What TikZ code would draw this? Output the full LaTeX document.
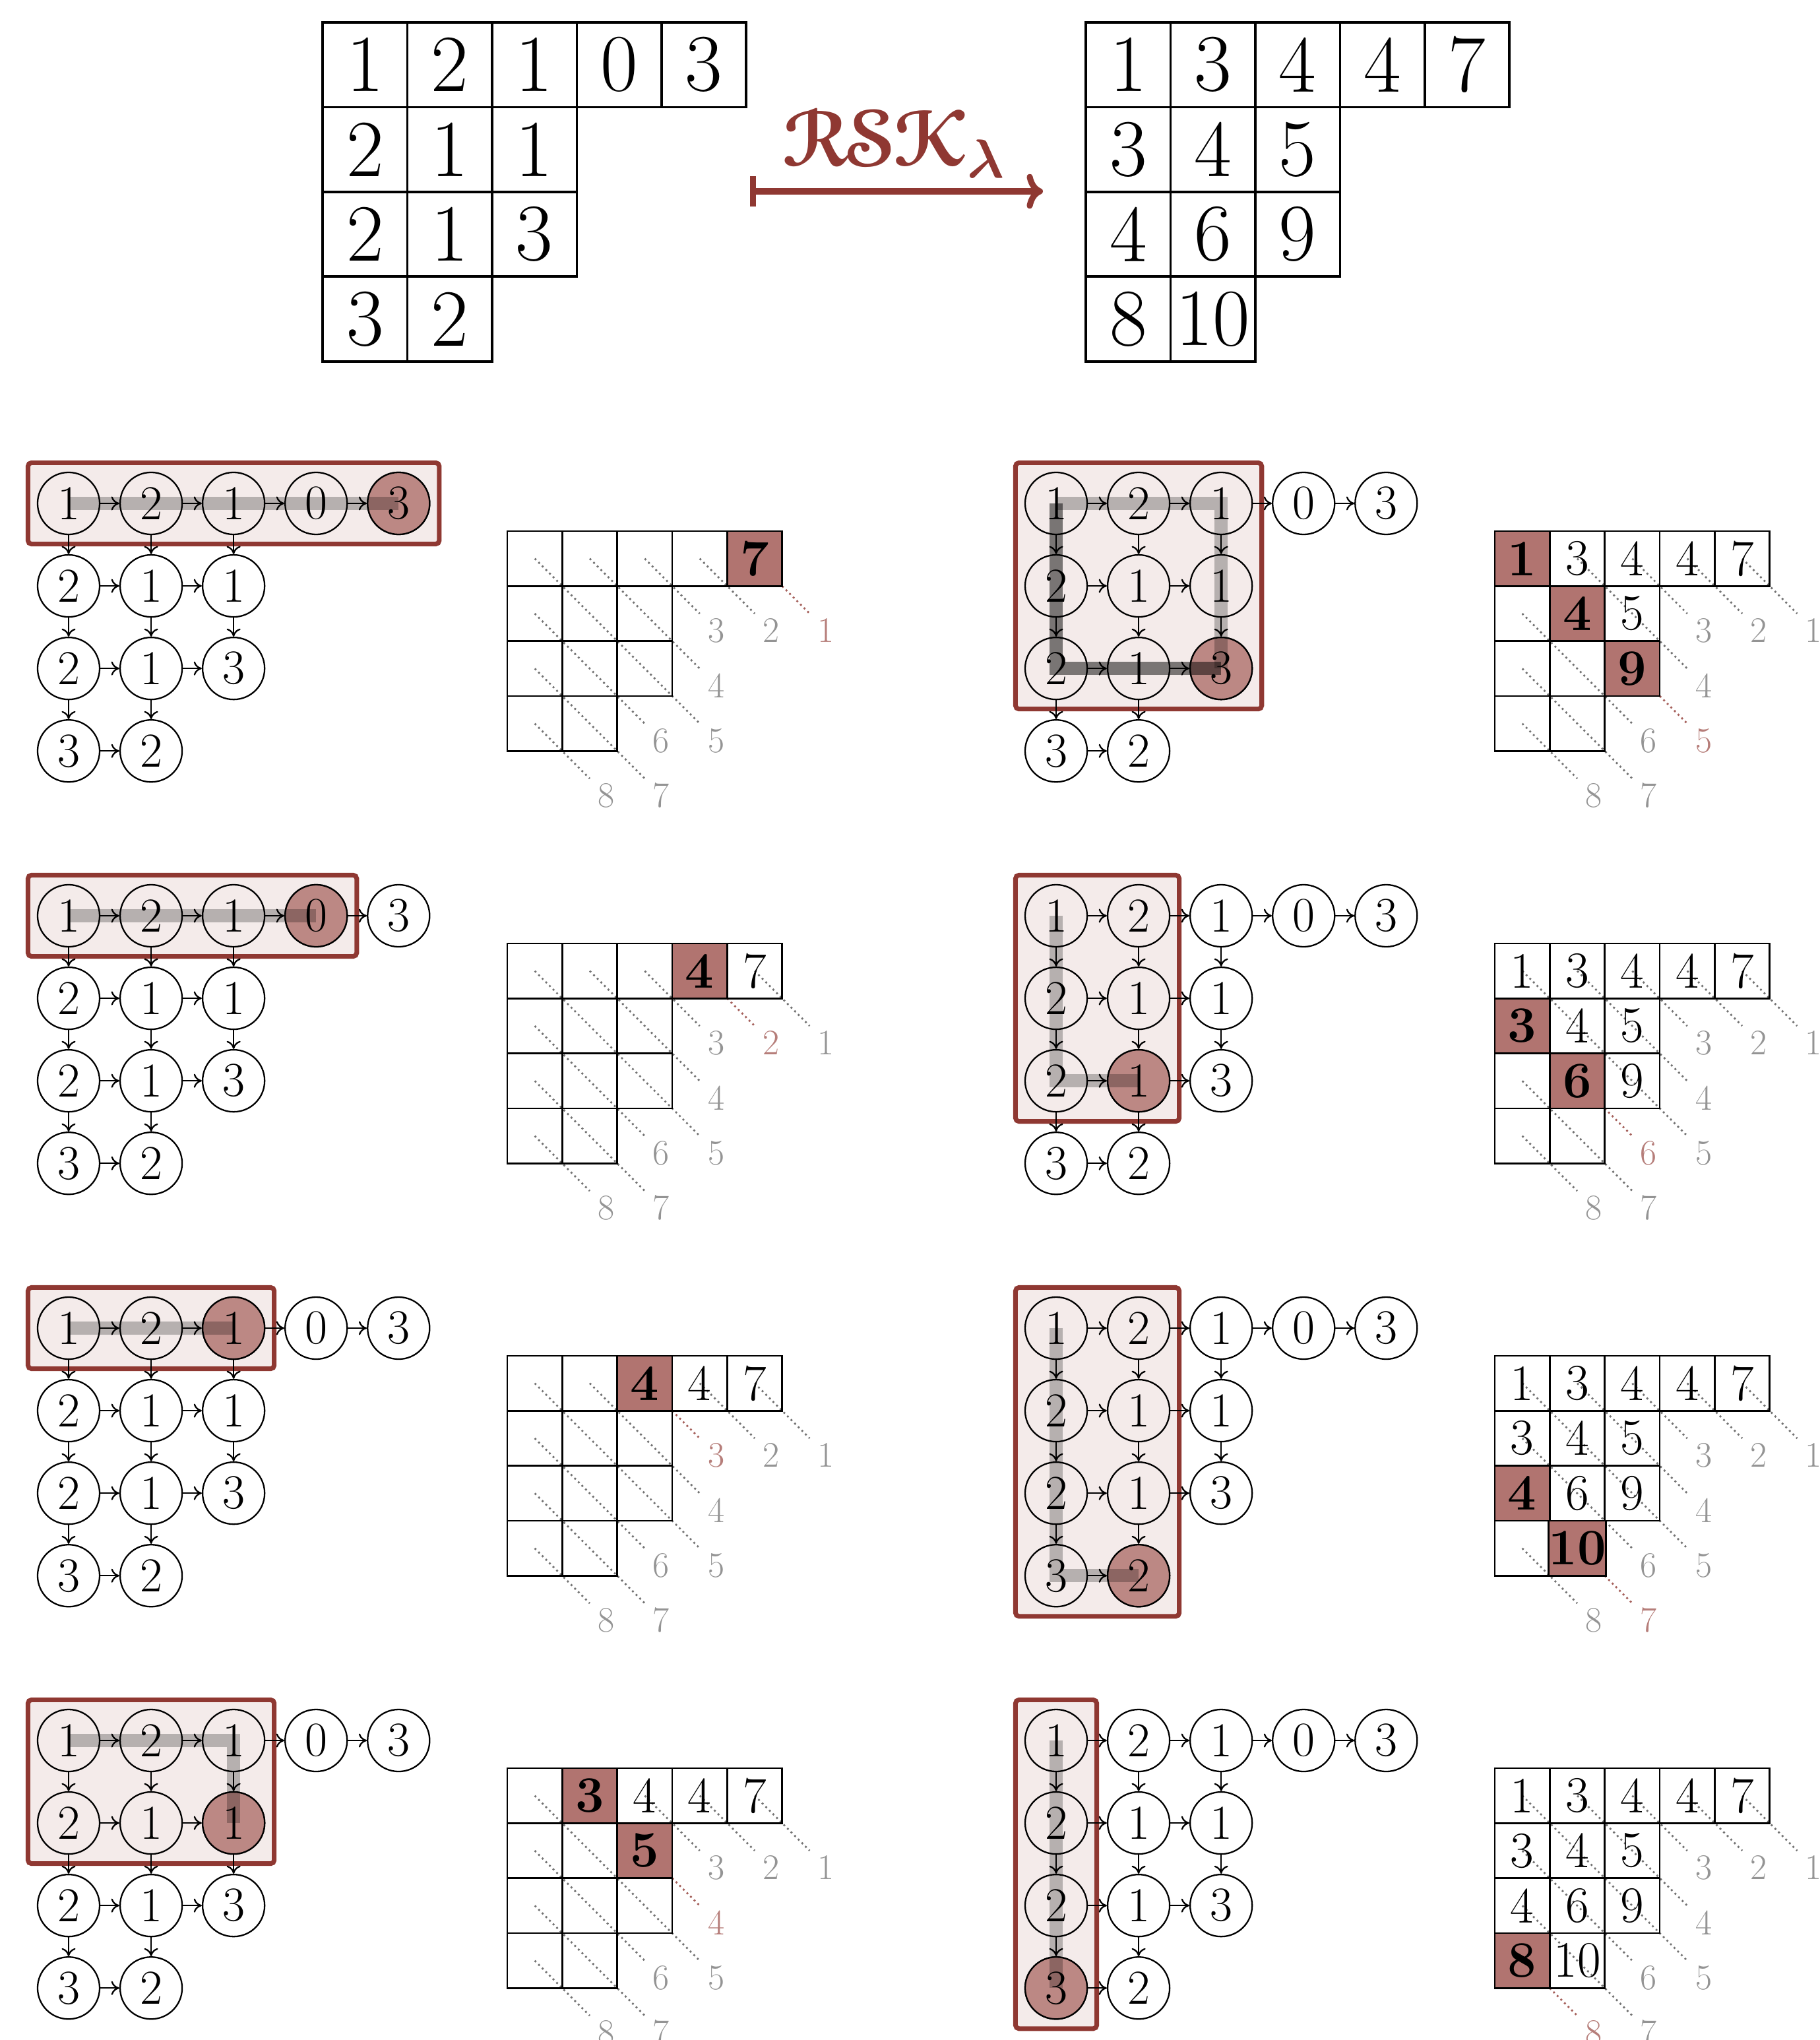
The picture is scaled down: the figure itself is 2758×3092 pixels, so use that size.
\documentclass[tikz,border=0pt]{standalone}
\usepackage{amsmath}
\usepackage[mathscr]{eucal}
\usepackage{graphicx}
\usetikzlibrary{positioning,arrows.meta,fit,backgrounds}
\definecolor{rskred}{RGB}{143,56,50}

% weight array as a grid of circles, #1 name, #2/#3 centre of the top-left circle
\newcommand\wgrid[3]{%
  \begin{scope}[shift={(#2,#3)}, x=1.25cm, y=-1.25cm]
    \foreach \vals [count=\r from 0] in {{1,2,1,0,3},{2,1,1},{2,1,3},{3,2}} {
      \foreach \v [count=\c from 0] in \vals {
        \node[vert] (#1-\r-\c) at (\c,\r) {\v};
      }
    }
    \foreach \r/\c [evaluate=\c as \n using int(\c+1)] in {0/0,0/1,0/2,0/3,1/0,1/1,2/0,2/1,3/0}
      \draw[link] (#1-\r-\c) -- (#1-\r-\n);
    \foreach \r/\c [evaluate=\r as \n using int(\r+1)] in {0/0,0/1,0/2,1/0,1/1,1/2,2/0,2/1}
      \draw[link] (#1-\r-\c) -- (#1-\n-\c);
  \end{scope}}

% empty shape 5,3,3,2 with its diagonals, #1 name, #2/#3 top-left corner, #4 red diagonal
\newcommand\ytab[4]{%
  \begin{scope}[shift={(#2,#3)}, x=0.833cm, y=-0.833cm]
    \foreach \sx/\sy/\ex/\ey/\k in {4.5/0.5/5.5/1.5/1, 3.5/0.5/4.5/1.5/2, 2.5/0.5/3.5/1.5/3,
        1.5/0.5/3.5/2.5/4, 0.5/0.5/3.5/3.5/5, 0.5/1.5/2.5/3.5/6, 0.5/2.5/2.5/4.5/7, 0.5/3.5/1.5/4.5/8} {
      \ifnum\k=#4
        \draw[diag] (\sx,\sy) -- (\ex-0.5,\ey-0.5);
        \draw[diag, rskred!80] (\ex-0.5,\ey-0.5) -- (\ex,\ey);
        \node[lab, text=rskred!65] (#1-d\k) at (\ex+0.3,\ey+0.31) {\k};
      \else
        \draw[diag] (\sx,\sy) -- (\ex,\ey);
        \node[lab] (#1-d\k) at (\ex+0.3,\ey+0.31) {\k};
      \fi
    }
    \foreach \len [count=\r from 0] in {5,3,3,2} {
      \pgfmathtruncatemacro\last{\len-1}
      \foreach \c in {0,...,\last}
        \node[cell] (#1-\r-\c) at (\c+0.5,\r+0.5) {};
    }
  \end{scope}}

\begin{document}
\begin{tikzpicture}[
  x=0.01cm, y=-0.01cm,
  vert/.style={circle, draw, line width=0.65pt, minimum size=0.94cm, inner sep=0pt,
    font=\fontsize{21}{21}\selectfont},
  hot/.style={fill=rskred!60},
  link/.style={line width=0.65pt, -{Computer Modern Rightarrow[length=3.5pt,width=6pt]}},
  window/.style={draw=rskred, fill=rskred!10, line width=2pt, rounded corners=1.5pt, inner sep=0.134cm},
  trail/.style={line width=0.2cm, draw=black, draw opacity=0.25},
  heavy/.style={trail, draw opacity=0.5},
  cell/.style={draw, line width=0.75pt, minimum size=0.833cm, inner sep=0pt,
    font=\fontsize{22}{22}\selectfont},
  hotcell/.style={cell, fill=rskred!70},
  num/.style={inner sep=0pt, font=\fontsize{22}{22}\selectfont},
  diag/.style={black!55, line width=0.8pt, dash pattern=on 0.8pt off 1.4pt},
  lab/.style={text=black!42, inner sep=0pt, font=\fontsize{15.5}{15.5}\selectfont},
  bigcell/.style={draw, line width=1.1pt, minimum size=1.284cm, inner sep=0pt,
    font=\fontsize{35}{35}\selectfont},
  maps/.style={draw=rskred, line width=2.6pt,
    {Bar[width=13pt]}-{Computer Modern Rightarrow[length=7pt,width=15pt]}}
]
\useasboundingbox (0,0) rectangle (2758,3092);

% --- the two big tableaux ---
\begin{scope}[shift={(489,34)}, x=1.284cm, y=-1.284cm]
  \foreach \vals [count=\r from 0] in {{1,2,1,0,3},{2,1,1},{2,1,3},{3,2}} {
    \foreach \v [count=\c from 0] in \vals
      \node[bigcell] (w-\r-\c) at (\c+0.5,\r+0.5) {\v};
  }
\end{scope}
\begin{scope}[shift={(1646,34)}, x=1.284cm, y=-1.284cm]
  \foreach \vals [count=\r from 0] in {{1,3,4,4,7},{3,4,5},{4,6,9},{8,10}} {
    \foreach \v [count=\c from 0] in \vals
      \node[bigcell] (p-\r-\c) at (\c+0.5,\r+0.5) {\v};
  }
\end{scope}
\coordinate (mapfrom) at (1137,290);
\coordinate (mapto) at (1581,290);
\draw[maps] (mapfrom) -- (mapto);
\node[text=rskred, anchor=base, inner sep=0pt, font=\fontsize{20.74}{24}\selectfont]
  (rsk) at (1356,252) {\scalebox{1.64}{\boldmath$\mathscr{RSK}_\lambda$}};

% --- Row 1 ---
\wgrid{gl1}{104}{763}
\begin{scope}[on background layer]
  \node[window, fit=(gl1-0-0)(gl1-0-4)] (bl1) {};
\end{scope}
\node[vert, hot] (gl1-x) at (gl1-0-4) {3};
\draw[trail] (gl1-0-0.center) -- (gl1-0-4.center);

\ytab{tl1}{769}{805}{1}
\foreach \r/\c/\v in {0/4/7}
  \node[hotcell] (tl1-h\r\c) at (tl1-\r-\c) {\textbf{\v}};

\wgrid{gr1}{1601}{763}
\begin{scope}[on background layer]
  \node[window, fit=(gr1-0-0)(gr1-2-2)] (br1) {};
\end{scope}
\node[vert, hot] (gr1-x) at (gr1-2-2) {3};
\draw[trail] (gr1-0-0.center) -- (gr1-0-2.center) -- (gr1-2-2.center);
\draw[heavy] (gr1-0-0.center) -- (gr1-2-0.center) -- (gr1-2-2.center);

\ytab{tr1}{2266}{805}{5}
\foreach \r/\c/\v in {0/0/1,1/1/4,2/2/9}
  \node[hotcell] (tr1-h\r\c) at (tr1-\r-\c) {\textbf{\v}};
\foreach \r/\c/\v in {0/1/3,0/2/4,0/3/4,0/4/7,1/2/5}
  \node[num] (tr1-n\r\c) at (tr1-\r-\c) {\v};

% --- Row 2 ---
\wgrid{gl2}{104}{1388}
\begin{scope}[on background layer]
  \node[window, fit=(gl2-0-0)(gl2-0-3)] (bl2) {};
\end{scope}
\node[vert, hot] (gl2-x) at (gl2-0-3) {0};
\draw[trail] (gl2-0-0.center) -- (gl2-0-3.center);

\ytab{tl2}{769}{1430}{2}
\foreach \r/\c/\v in {0/3/4}
  \node[hotcell] (tl2-h\r\c) at (tl2-\r-\c) {\textbf{\v}};
\foreach \r/\c/\v in {0/4/7}
  \node[num] (tl2-n\r\c) at (tl2-\r-\c) {\v};

\wgrid{gr2}{1601}{1388}
\begin{scope}[on background layer]
  \node[window, fit=(gr2-0-0)(gr2-2-1)] (br2) {};
\end{scope}
\node[vert, hot] (gr2-x) at (gr2-2-1) {1};
\draw[trail] (gr2-0-0.center) -- (gr2-2-0.center) -- (gr2-2-1.center);

\ytab{tr2}{2266}{1430}{6}
\foreach \r/\c/\v in {1/0/3,2/1/6}
  \node[hotcell] (tr2-h\r\c) at (tr2-\r-\c) {\textbf{\v}};
\foreach \r/\c/\v in {0/0/1,0/1/3,0/2/4,0/3/4,0/4/7,1/1/4,1/2/5,2/2/9}
  \node[num] (tr2-n\r\c) at (tr2-\r-\c) {\v};

% --- Row 3 ---
\wgrid{gl3}{104}{2013}
\begin{scope}[on background layer]
  \node[window, fit=(gl3-0-0)(gl3-0-2)] (bl3) {};
\end{scope}
\node[vert, hot] (gl3-x) at (gl3-0-2) {1};
\draw[trail] (gl3-0-0.center) -- (gl3-0-2.center);

\ytab{tl3}{769}{2055}{3}
\foreach \r/\c/\v in {0/2/4}
  \node[hotcell] (tl3-h\r\c) at (tl3-\r-\c) {\textbf{\v}};
\foreach \r/\c/\v in {0/3/4,0/4/7}
  \node[num] (tl3-n\r\c) at (tl3-\r-\c) {\v};

\wgrid{gr3}{1601}{2013}
\begin{scope}[on background layer]
  \node[window, fit=(gr3-0-0)(gr3-3-1)] (br3) {};
\end{scope}
\node[vert, hot] (gr3-x) at (gr3-3-1) {2};
\draw[trail] (gr3-0-0.center) -- (gr3-3-0.center) -- (gr3-3-1.center);

\ytab{tr3}{2266}{2055}{7}
\foreach \r/\c/\v in {2/0/4,3/1/10}
  \node[hotcell] (tr3-h\r\c) at (tr3-\r-\c) {\textbf{\v}};
\foreach \r/\c/\v in {0/0/1,0/1/3,0/2/4,0/3/4,0/4/7,1/0/3,1/1/4,1/2/5,2/1/6,2/2/9}
  \node[num] (tr3-n\r\c) at (tr3-\r-\c) {\v};

% --- Row 4 ---
\wgrid{gl4}{104}{2638}
\begin{scope}[on background layer]
  \node[window, fit=(gl4-0-0)(gl4-1-2)] (bl4) {};
\end{scope}
\node[vert, hot] (gl4-x) at (gl4-1-2) {1};
\draw[trail] (gl4-0-0.center) -- (gl4-0-2.center) -- (gl4-1-2.center);

\ytab{tl4}{769}{2680}{4}
\foreach \r/\c/\v in {0/1/3,1/2/5}
  \node[hotcell] (tl4-h\r\c) at (tl4-\r-\c) {\textbf{\v}};
\foreach \r/\c/\v in {0/2/4,0/3/4,0/4/7}
  \node[num] (tl4-n\r\c) at (tl4-\r-\c) {\v};

\wgrid{gr4}{1601}{2638}
\begin{scope}[on background layer]
  \node[window, fit=(gr4-0-0)(gr4-3-0)] (br4) {};
\end{scope}
\node[vert, hot] (gr4-x) at (gr4-3-0) {3};
\draw[trail] (gr4-0-0.center) -- (gr4-3-0.center);

\ytab{tr4}{2266}{2680}{8}
\foreach \r/\c/\v in {3/0/8}
  \node[hotcell] (tr4-h\r\c) at (tr4-\r-\c) {\textbf{\v}};
\foreach \r/\c/\v in {0/0/1,0/1/3,0/2/4,0/3/4,0/4/7,1/0/3,1/1/4,1/2/5,2/0/4,2/1/6,2/2/9,3/1/10}
  \node[num] (tr4-n\r\c) at (tr4-\r-\c) {\v};

\end{tikzpicture}
\end{document}
